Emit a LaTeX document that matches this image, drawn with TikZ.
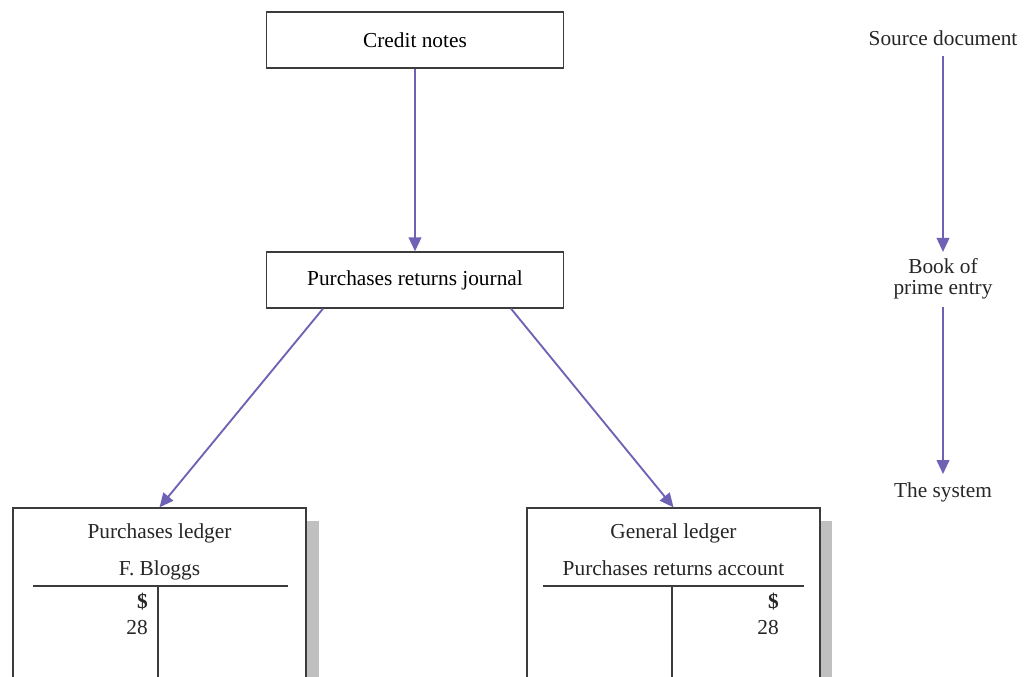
\documentclass[tikz,border=0pt]{standalone}
\usepackage{fontspec}
\setmainfont{Liberation Serif}
\usetikzlibrary{arrows.meta,calc}
\definecolor{flow}{RGB}{110,98,180}
\definecolor{ledgershadow}{RGB}{192,192,192}
\definecolor{edge}{RGB}{60,60,60}
\begin{document}
\begin{tikzpicture}[x=0.75pt,y=-0.75pt,font=\fontsize{16}{15.5}\selectfont,
  box/.style={draw=edge,line width=1pt,fill=white,minimum width=222.75pt,minimum height=42pt,inner sep=0pt},
  ledger/.style={draw=edge,line width=1pt,fill=white,minimum width=219.75pt,minimum height=136.5pt,inner sep=0pt},
  flowarrow/.style={draw=flow,line width=1.4pt,-{Triangle[length=10.5pt,width=9.5pt]}},
  txt/.style={inner sep=0pt,text=black!85}]
\useasboundingbox (0,0) rectangle (1036,677);
\clip (0,0) rectangle (1036,677);
\fill[ledgershadow] (306,521) rectangle (319,677);
\fill[ledgershadow] (820,521) rectangle (832,677);
\node[box] (credit) at (415,40) {Credit notes};
\node[box] (jrnl) at (415,280) {Purchases returns journal};
\node[ledger] (pl) at (159.5,599) {};
\node[ledger] (gl) at (673.5,599) {};
\node[txt,anchor=base] (plname) at (159.5,538) {Purchases ledger};
\node[txt,anchor=base] (placc) at (159.5,575) {F. Bloggs};
\node[txt,anchor=base] (glname) at (673.5,538) {General ledger};
\node[txt,anchor=base] (glacc) at (673.5,575) {Purchases returns account};
\draw[edge,line width=0.8pt] (33,586) -- (288,586) (158,586) -- (158,690);
\draw[edge,line width=0.8pt] (543,586) -- (804,586) (672,586) -- (672,690);
\foreach \x in {148, 779} {
  \node[txt,anchor=base east] at (\x,608) {\textbf{\$}};
  \node[txt,anchor=base east] at (\x,634) {28};
}
\node[txt] (src) at (943,38) {Source document};
\node[txt,align=center] (book) at (943,279) {Book of\\prime entry};
\node[txt] (sys) at (943,492) {The system};
\draw[flowarrow] (credit) -- (jrnl);
\draw[flowarrow] ($(jrnl.south)+(-92,0)$) -- (pl.north);
\draw[flowarrow] ($(jrnl.south)+(96,0)$) -- (gl.north);
\draw[flowarrow,shorten <=8pt,shorten >=5pt] (src) -- (book);
\draw[flowarrow,shorten <=6pt,shorten >=6pt] (book) -- (sys);
\end{tikzpicture}
\end{document}
